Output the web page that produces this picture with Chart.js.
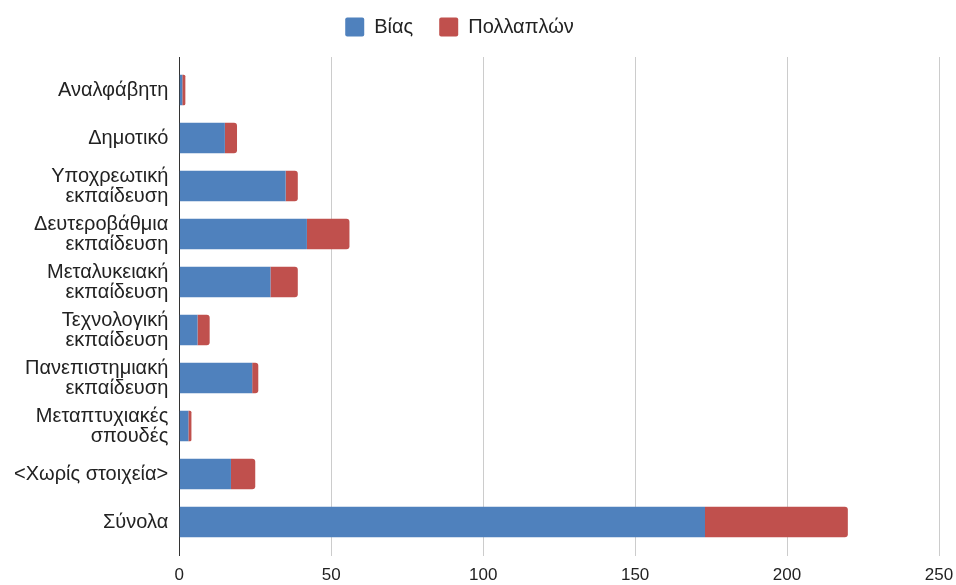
<!DOCTYPE html>
<html>
<head>
<meta charset="utf-8">
<script src="https://cdn.jsdelivr.net/npm/chart.js@4.4.0/dist/chart.umd.min.js"></script>
<style>
  html, body { margin: 0; padding: 0; background: #fff; }
  #wrap { width: 956px; height: 585px; }
</style>
</head>
<body>
<div id="wrap"><canvas id="bar-chart"></canvas></div>
<script>
var categories = [
  "Αναλφάβητη",
  "Δημοτικό",
  ["Υποχρεωτική", "εκπαίδευση"],
  ["Δευτεροβάθμια", "εκπαίδευση"],
  ["Μεταλυκειακή", "εκπαίδευση"],
  ["Τεχνολογική", "εκπαίδευση"],
  ["Πανεπιστημιακή", "εκπαίδευση"],
  ["Μεταπτυχιακές", "σπουδές"],
  "<Χωρίς στοιχεία>",
  "Σύνολα"
];
var bias = [1, 15, 35, 42, 30, 6, 24, 3, 17, 173];
var pollaplon = [1, 4, 4, 14, 9, 4, 2, 1, 8, 47];
var xTicks = [0, 50, 100, 150, 200, 250];

var fontFamily = "'Liberation Sans', Arial, sans-serif";

// gridlines in the original run a little past the top of the plot
var gridTop = {
  id: 'gridTop',
  beforeDatasetsDraw: function (chart) {
    var ctx = chart.ctx;
    var x = chart.scales.x;
    var top = chart.chartArea.top;
    ctx.save();
    ctx.lineWidth = 1;
    for (var i = 0; i < xTicks.length; i++) {
      var px = Math.round(x.getPixelForValue(xTicks[i])) + 0.5;
      ctx.strokeStyle = xTicks[i] === 0 ? '#333333' : '#cccccc';
      ctx.beginPath();
      ctx.moveTo(px, top - 9);
      ctx.lineTo(px, top);
      ctx.stroke();
    }
    ctx.restore();
  }
};

// legend sits higher and a bit left of where chart.js would put it
var legendShift = {
  id: 'legendShift',
  beforeInit: function (chart) {
    var fit = chart.legend.fit;
    chart.legend.fit = function () {
      fit.call(this);
      this.height += 3;
    };
  },
  afterLayout: function (chart) {
    var lg = chart.legend;
    lg.left -= 20; lg.right -= 20;
    lg.top -= 16; lg.bottom -= 16;
  }
};

var barChart = new Chart(document.getElementById("bar-chart"), {
  type: 'bar',
  data: {
    labels: categories,
    datasets: [{
      label: "Βίας",
      data: bias,
      backgroundColor: "#4F81BD",
      categoryPercentage: 0.64,
      barPercentage: 1
    }, {
      label: "Πολλαπλών",
      data: pollaplon,
      backgroundColor: "#C0504D",
      borderRadius: 3,
      borderSkipped: 'start',
      categoryPercentage: 0.64,
      barPercentage: 1
    }]
  },
  options: {
    indexAxis: 'y',
    responsive: true,
    maintainAspectRatio: false,
    animation: false,
    layout: {
      padding: { top: 7, right: 0, bottom: -10, left: 3 }
    },
    plugins: {
      legend: {
        display: true,
        position: 'top',
        labels: {
          boxWidth: 19,
          boxHeight: 19,
          padding: 26,
          color: '#222222',
          font: { family: fontFamily, size: 20 },
          useBorderRadius: true,
          borderRadius: 2,
          generateLabels: function (chart) {
            var items = Chart.defaults.plugins.legend.labels.generateLabels(chart);
            items.forEach(function (it) { it.lineWidth = 0; });
            return items;
          }
        }
      },
      tooltip: { enabled: false }
    },
    scales: {
      x: {
        stacked: true,
        min: 0,
        max: 250,
        afterBuildTicks: function (axis) {
          axis.ticks = xTicks.map(function (v) { return { value: v }; });
        },
        afterFit: function (axis) {
          axis.paddingRight = 17;
        },
        border: { display: false },
        grid: {
          color: function (c) { return c.tick && c.tick.value === 0 ? '#333333' : '#cccccc'; },
          tickColor: function (c) { return c.tick && c.tick.value === 0 ? '#333333' : '#cccccc'; },
          tickLength: 10,
          drawTicks: true
        },
        ticks: {
          color: '#222222',
          padding: 11,
          font: { family: fontFamily, size: 17, lineHeight: 1.0 }
        }
      },
      y: {
        stacked: true,
        border: { display: false },
        grid: { display: false, drawTicks: false },
        ticks: {
          color: '#222222',
          padding: 11,
          font: { family: fontFamily, size: 20, lineHeight: 1.0 }
        }
      }
    }
  },
  plugins: [gridTop, legendShift]
});
</script>
</body>
</html>
